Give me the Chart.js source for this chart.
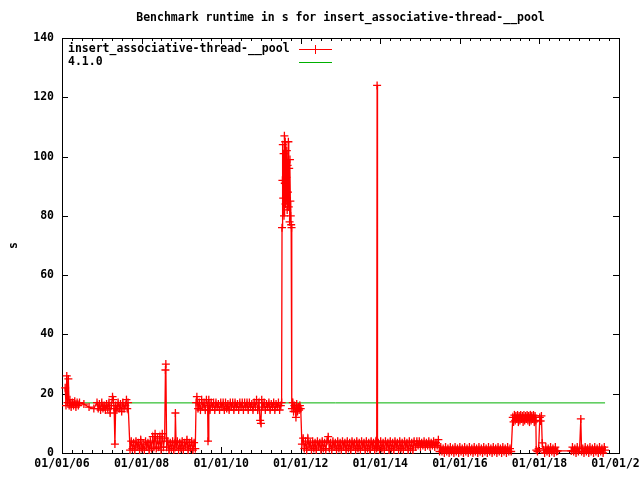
<!DOCTYPE html>
<html>
<head>
<meta charset="utf-8">
<title>Benchmark runtime</title>
<script src="https://cdn.jsdelivr.net/npm/chart.js@4.4.0/dist/chart.umd.min.js"></script>
<style>
    html, body { margin: 0; padding: 0; background: #ffffff; }
</style>
</head>
<body>
<canvas id="chart" width="640" height="480"></canvas>
<script>
const chartTitle = "Benchmark runtime in s for insert_associative-thread-__pool";
const seriesNames = ["insert_associative-thread-__pool", "4.1.0"];

const xTickYears = [2006, 2008, 2010, 2012, 2014, 2016, 2018, 2020];
const xTickLabels = ["01/01/06", "01/01/08", "01/01/10", "01/01/12", "01/01/14", "01/01/16", "01/01/18", "01/01/20"];
const yTickValues = [0, 20, 40, 60, 80, 100, 120, 140];

// run dates as decimal years, runtimes in s
const runYears = [
    2006.08, 2006.10, 2006.12, 2006.14, 2006.16, 2006.18, 2006.20, 2006.23, 2006.26, 2006.29, 2006.32, 2006.35, 2006.38, 2006.41, 2006.44,
    2006.55, 2006.68, 2006.80,
    2006.88, 2006.91, 2006.94, 2006.97, 2007.00, 2007.03, 2007.06, 2007.09, 2007.12, 2007.15, 2007.18, 2007.21, 2007.24, 2007.27, 2007.29,
    2007.31, 2007.33, 2007.35, 2007.38, 2007.41, 2007.44, 2007.47, 2007.50, 2007.53, 2007.56, 2007.59, 2007.62, 2007.64, 2007.66,
    2007.71, 2007.74, 2007.77, 2007.80, 2007.83, 2007.86, 2007.89, 2007.92, 2007.95, 2007.98,
    2008.01, 2008.04, 2008.07, 2008.10, 2008.13, 2008.16, 2008.19, 2008.22, 2008.25, 2008.28,
    2008.31, 2008.34, 2008.37, 2008.40, 2008.43, 2008.46, 2008.49, 2008.52, 2008.55, 2008.58,
    2008.60, 2008.61, 2008.63, 2008.66, 2008.69, 2008.72, 2008.75, 2008.78, 2008.81, 2008.84,
    2008.85, 2008.87, 2008.90, 2008.93, 2008.96, 2008.99, 2009.02, 2009.05, 2009.08, 2009.11,
    2009.14, 2009.17, 2009.20, 2009.23, 2009.26, 2009.29, 2009.32, 2009.35,
    2009.37, 2009.39, 2009.42, 2009.45, 2009.48, 2009.51, 2009.54, 2009.57, 2009.60, 2009.63, 2009.66, 2009.67,
    2009.69, 2009.72, 2009.75, 2009.78, 2009.81, 2009.84, 2009.87, 2009.90, 2009.93, 2009.96, 2009.99,
    2010.02, 2010.05, 2010.08, 2010.11, 2010.14, 2010.17, 2010.20, 2010.23, 2010.26, 2010.29,
    2010.32, 2010.35, 2010.38, 2010.41, 2010.44, 2010.47, 2010.50, 2010.53, 2010.56, 2010.59,
    2010.62, 2010.65, 2010.68, 2010.71, 2010.74, 2010.77, 2010.80, 2010.83, 2010.86, 2010.89,
    2010.92, 2010.95,
    2010.98, 2011.00, 2011.02, 2011.05, 2011.08, 2011.11, 2011.14, 2011.17, 2011.20, 2011.23,
    2011.26, 2011.29, 2011.32, 2011.35, 2011.38, 2011.41, 2011.44, 2011.47, 2011.50,
    2011.52, 2011.53, 2011.54, 2011.55, 2011.56, 2011.57, 2011.58, 2011.59, 2011.60, 2011.61, 2011.62,
    2011.63, 2011.64, 2011.65, 2011.66, 2011.67, 2011.68, 2011.69, 2011.70, 2011.71, 2011.72,
    2011.73, 2011.74, 2011.75, 2011.76, 2011.77,
    2011.78, 2011.80, 2011.82, 2011.84, 2011.86, 2011.88, 2011.90, 2011.92, 2011.94, 2011.96, 2011.98, 2012.00,
    2012.03, 2012.06, 2012.09, 2012.12, 2012.15, 2012.18, 2012.21, 2012.24, 2012.27, 2012.30,
    2012.33, 2012.36, 2012.39, 2012.42, 2012.45, 2012.48, 2012.51, 2012.54, 2012.57, 2012.60,
    2012.63, 2012.66, 2012.69, 2012.72, 2012.75, 2012.78, 2012.81, 2012.84, 2012.87, 2012.90,
    2012.93, 2012.96, 2012.99, 2013.02, 2013.05, 2013.08, 2013.11, 2013.14, 2013.17, 2013.20,
    2013.23, 2013.26, 2013.29, 2013.32, 2013.35, 2013.38, 2013.41, 2013.44, 2013.47, 2013.50,
    2013.53, 2013.56, 2013.59, 2013.62, 2013.65, 2013.68, 2013.71, 2013.74, 2013.77, 2013.80,
    2013.83, 2013.86, 2013.89, 2013.91, 2013.92, 2013.93, 2013.95, 2013.98, 2014.01, 2014.04,
    2014.07, 2014.10, 2014.13, 2014.16, 2014.19, 2014.22, 2014.25, 2014.28, 2014.31, 2014.34,
    2014.37, 2014.40, 2014.43, 2014.46, 2014.49, 2014.52, 2014.55, 2014.58, 2014.61, 2014.64,
    2014.67, 2014.70, 2014.73, 2014.76, 2014.79, 2014.82, 2014.85,
    2014.89, 2014.92, 2014.95, 2014.98, 2015.01, 2015.04, 2015.07, 2015.10, 2015.13, 2015.16,
    2015.19, 2015.22, 2015.25, 2015.28, 2015.31, 2015.34, 2015.37, 2015.40, 2015.43, 2015.46,
    2015.49, 2015.52, 2015.55, 2015.58, 2015.61, 2015.64, 2015.67, 2015.70, 2015.73, 2015.76,
    2015.79, 2015.82, 2015.85, 2015.88, 2015.91, 2015.94, 2015.97, 2016.00, 2016.03, 2016.06,
    2016.09, 2016.12, 2016.15, 2016.18, 2016.21, 2016.24, 2016.27, 2016.30, 2016.33, 2016.36,
    2016.39, 2016.42, 2016.45, 2016.48, 2016.51, 2016.54, 2016.57, 2016.60, 2016.63, 2016.66,
    2016.69, 2016.72, 2016.75, 2016.78, 2016.81, 2016.84, 2016.87, 2016.90, 2016.93, 2016.96,
    2016.99, 2017.02, 2017.05, 2017.08, 2017.11, 2017.14, 2017.17, 2017.20, 2017.23, 2017.26, 2017.29,
    2017.33, 2017.35, 2017.37, 2017.39, 2017.41, 2017.43, 2017.45, 2017.47, 2017.49, 2017.51,
    2017.53, 2017.55, 2017.57, 2017.59, 2017.61, 2017.63, 2017.65, 2017.67, 2017.69, 2017.71,
    2017.73, 2017.75, 2017.77, 2017.79, 2017.81, 2017.83, 2017.85, 2017.87, 2017.89, 2017.91,
    2017.92, 2017.95, 2017.98, 2018.01, 2018.03, 2018.05, 2018.07, 2018.10, 2018.13, 2018.16,
    2018.19, 2018.22, 2018.25, 2018.28, 2018.31, 2018.34, 2018.37, 2018.40, 2018.43, 2018.46,
    2018.80, 2018.83, 2018.86, 2018.89, 2018.92, 2018.95, 2018.98, 2019.01, 2019.04, 2019.06,
    2019.09, 2019.12, 2019.15, 2019.18, 2019.21, 2019.24, 2019.27, 2019.30, 2019.33, 2019.36,
    2019.39, 2019.42, 2019.45, 2019.48, 2019.51, 2019.54, 2019.57, 2019.60, 2019.63, 2019.65
];
const runSeconds = [
    22, 16, 26, 17, 25, 16, 18, 15.5, 17, 16, 17.5, 15.5, 17, 16, 17,
    16.5, 15.5, 15,
    17, 15, 16.5, 14.5, 17, 15, 16, 14.5, 16.5, 15, 17, 13.5, 16, 19, 18,
    15, 3, 16, 14.5, 17, 15, 16.5, 14, 17, 15, 16, 18, 15, 17,
    1, 4, 1.5, 3.5, 1, 4, 2, 3.5, 1, 4.5,
    1.5, 3, 1, 4, 2, 3.5, 1, 4, 1.5, 5.5,
    2, 6.5, 1.5, 5, 2, 5.5, 1, 6.5, 2, 5,
    28, 30, 2, 4, 1, 3.5, 1.5, 4, 1, 3.5,
    13.5, 2, 4, 1, 3.5, 1.5, 4, 1, 3.5, 2,
    4.5, 1, 3.5, 1.5, 4, 1, 3.5, 1.5,
    17, 19, 15, 17, 14.5, 18, 15.5, 17, 14.5, 18, 16, 4,
    18, 14.5, 17, 15.5, 17, 14.5, 17, 15.5, 16.5, 14.5, 17,
    15.5, 17, 14.5, 17, 15, 16.5, 14.5, 17, 15.5, 17,
    14.5, 17, 15.5, 16.5, 14.5, 17, 15.5, 17, 14.5, 17,
    15.5, 17, 14.5, 17, 15.5, 16.5, 14.5, 17, 15.5, 18,
    14.5, 17,
    11, 10, 18, 15.5, 17, 14.5, 16.5, 15.5, 17, 14.5,
    16.5, 15.5, 17, 14.5, 16.5, 15.5, 17, 14.5, 16,
    17, 76, 92, 104, 86, 101, 80, 107, 91, 105, 84,
    99, 93, 102, 82, 97, 88, 105, 83, 96, 78,
    99, 85, 80, 77, 76,
    15, 17, 14, 16, 15, 12, 16.5, 14, 15.5, 14.5, 16, 15,
    3, 5, 1.5, 4, 1, 5, 2, 3.5, 1, 4,
    1.5, 3.5, 1, 4, 2, 3.5, 1, 4, 1.5, 3.5,
    1, 4, 5.5, 1.5, 3.5, 1, 4, 2, 3.5, 1,
    4, 1.5, 3.5, 1, 4, 2, 3.5, 1, 4, 1.5,
    3.5, 1, 4, 2, 3.5, 1, 4, 1.5, 3.5, 1,
    4, 2, 3.5, 1, 4, 1.5, 3.5, 1, 4, 2,
    3.5, 1, 4, 1.5, 124, 2, 3.5, 1, 4, 1.5,
    3.5, 1, 4, 2, 3.5, 1, 4, 1.5, 3.5, 1,
    4, 2, 3.5, 1, 4, 1.5, 3.5, 1, 4, 2,
    3.5, 1, 4, 1.5, 3.5, 1, 4,
    2, 4, 2.5, 4, 2, 3.5, 2.5, 4, 2, 3.5,
    2.5, 4, 2, 3.5, 2.5, 4, 2, 3.5, 2.5, 4.5,
    0.5, 2, 0.5, 1.5, 0, 2, 0.5, 1.5, 0, 2,
    0.5, 1.5, 0, 2, 0.5, 1.5, 0, 2, 0.5, 1.5,
    0, 2, 0.5, 1.5, 0, 2, 0.5, 1.5, 0, 2,
    0.5, 1.5, 0, 2, 0.5, 1.5, 0, 2, 0.5, 1.5,
    0, 2, 0.5, 1.5, 0, 2, 0.5, 1.5, 0, 2,
    0.5, 1.5, 0, 2, 0.5, 1.5, 0, 2, 0.5, 1.5, 0.5,
    12, 10.5, 12.8, 11, 12.5, 11.5, 12.8, 10.5, 12.5, 11,
    12.8, 11.5, 12.5, 10.5, 12.8, 11, 12.5, 11.5, 12.8, 11,
    12.5, 10.5, 12.8, 11, 12.5, 11.5, 12.8, 10.5, 12.5, 11,
    1, 0.5, 1.5, 12, 10.8, 12.5, 3.4, 1, 0, 2,
    0.5, 1.5, 0, 2, 0.5, 1.5, 0, 2, 0.5, 0.7,
    0.7, 2, 0.5, 1.5, 0, 2, 0.5, 1.5, 11.5, 0.5,
    1.5, 0, 2, 0.5, 1.5, 0, 2, 0.5, 1.5, 0,
    2, 0.5, 1.5, 0, 2, 0.5, 1.5, 0, 2, 1
];

// reference version line
const versionYears = [2006.10, 2019.65];
const versionSeconds = [16.9, 16.9];

const monoFont = "'DejaVu Sans Mono', 'Liberation Mono', monospace";
const redColor = "#ff0000";
const greenColor = "#00b000";

function toPoints(xs, ys) {
    let points = [];
    for (let i = 0; i < xs.length; i++) {
        points.push({ x: xs[i], y: ys[i] });
    }
    return points;
}

// Border, tics and key drawn like gnuplot
const gnuplotFrame = {
    id: "gnuplotFrame",
    beforeDatasetsDraw(chart) {
        const ctx = chart.ctx;
        const a = chart.chartArea;
        const xs = chart.scales.x;
        const ys = chart.scales.y;
        ctx.save();
        ctx.strokeStyle = "#000000";
        ctx.lineWidth = 1;
        ctx.strokeRect(a.left + 0.5, a.top + 0.5, a.right - a.left, a.bottom - a.top);
        ctx.beginPath();
        for (let i = 0; i < yTickValues.length; i++) {
            let py = Math.round(ys.getPixelForValue(yTickValues[i])) + 0.5;
            ctx.moveTo(a.left, py);
            ctx.lineTo(a.left + 6, py);
            ctx.moveTo(a.right, py);
            ctx.lineTo(a.right - 6, py);
        }
        // quarter year minor tics, major at labels
        for (let q = 0; q <= 56; q++) {
            let yr = xTickYears[0] + q / 4;
            let len = (q % 8 === 0) ? 6 : 3;
            let px = Math.round(xs.getPixelForValue(yr)) + 0.5;
            ctx.moveTo(px, a.bottom);
            ctx.lineTo(px, a.bottom - len);
            ctx.moveTo(px, a.top);
            ctx.lineTo(px, a.top + len);
        }
        ctx.stroke();
        ctx.restore();
    },
    afterDatasetsDraw(chart) {
        const ctx = chart.ctx;
        const a = chart.chartArea;
        const colors = [redColor, greenColor];
        ctx.save();
        ctx.font = "bold 11.5px " + monoFont;
        ctx.textBaseline = "middle";
        ctx.textAlign = "left";
        for (let i = 0; i < seriesNames.length; i++) {
            let ty = a.top + 11 + i * 13;
            ctx.fillStyle = "#000000";
            ctx.fillText(seriesNames[i], a.left + 6, ty);
            ctx.fillStyle = colors[i];
            ctx.fillRect(a.left + 237, ty, 33, 1);
            if (i === 0) {
                ctx.fillRect(a.left + 253, ty - 4, 1, 9);
            }
        }
        ctx.restore();
    }
};

const canvas = document.getElementById("chart");
const ctx = canvas.getContext("2d");

const chart = new Chart(ctx, {
    type: "line",
    data: {
        datasets: [
            {
                label: seriesNames[0],
                data: toPoints(runYears, runSeconds),
                borderColor: redColor,
                borderWidth: 1.3,
                pointStyle: "cross",
                pointRadius: 4,
                pointBorderColor: redColor,
                pointBorderWidth: 1.3,
                tension: 0,
                fill: false,
                clip: false
            },
            {
                label: seriesNames[1],
                data: toPoints(versionYears, versionSeconds),
                borderColor: greenColor,
                borderWidth: 1,
                pointRadius: 0,
                tension: 0,
                fill: false,
                clip: false
            }
        ]
    },
    options: {
        responsive: false,
        animation: false,
        devicePixelRatio: 1,
        events: [],
        layout: { padding: { left: 0, right: 21, top: 0, bottom: 0 } },
        plugins: {
            legend: { display: false },
            tooltip: { enabled: false },
            title: {
                display: true,
                fullSize: false,
                text: chartTitle,
                color: "#000000",
                font: { family: monoFont, size: 11.5, weight: "bold" },
                padding: { top: 11, bottom: 13.2 }
            }
        },
        scales: {
            x: {
                type: "linear",
                min: xTickYears[0],
                max: xTickYears[xTickYears.length - 1],
                grid: { display: false, drawTicks: false },
                border: { display: false },
                afterBuildTicks: (scale) => {
                    scale.ticks = xTickYears.map((v) => ({ value: v }));
                },
                afterFit: (scale) => {
                    scale.height = 27;
                    scale.paddingLeft = 0;
                    scale.paddingRight = 0;
                },
                ticks: {
                    autoSkip: false,
                    maxRotation: 0,
                    padding: 4,
                    color: "#000000",
                    font: { family: monoFont, size: 11.5, weight: "bold" },
                    callback: (value, index) => xTickLabels[index]
                }
            },
            y: {
                type: "linear",
                min: 0,
                max: 140,
                grid: { display: false, drawTicks: false },
                border: { display: false },
                afterBuildTicks: (scale) => {
                    scale.ticks = yTickValues.map((v) => ({ value: v }));
                },
                afterFit: (scale) => {
                    scale.width = 62;
                    scale.paddingTop = 0;
                    scale.paddingBottom = 0;
                },
                ticks: {
                    padding: 8,
                    color: "#000000",
                    font: { family: monoFont, size: 11.5, weight: "bold" }
                },
                title: {
                    display: true,
                    text: "s",
                    color: "#000000",
                    font: { family: monoFont, size: 11.5, weight: "bold" },
                    padding: { top: 7, bottom: 0 }
                }
            }
        }
    },
    plugins: [gnuplotFrame]
});
</script>
</body>
</html>
